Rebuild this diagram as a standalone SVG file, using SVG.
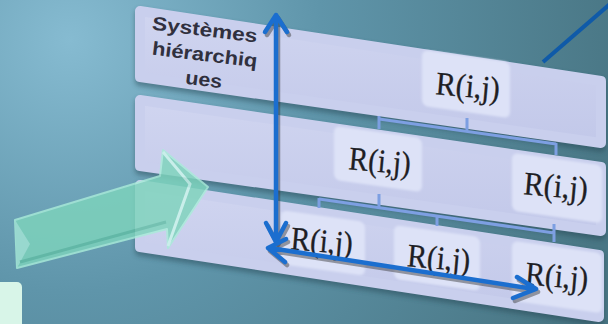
<svg xmlns="http://www.w3.org/2000/svg" width="608" height="324" viewBox="0 0 608 324">
<defs>
<radialGradient id="bg" cx="70" cy="40" r="560" gradientUnits="userSpaceOnUse">
<stop offset="0" stop-color="#86bbd1"/>
<stop offset="0.45" stop-color="#5f95aa"/>
<stop offset="1" stop-color="#497684"/>
</radialGradient>
<linearGradient id="pan" x1="0" y1="0" x2="0" y2="1">
<stop offset="0" stop-color="#d0d5f0"/>
<stop offset="1" stop-color="#c2c8e9"/>
</linearGradient>
<filter id="blur" x="-10%" y="-10%" width="120%" height="130%"><feGaussianBlur stdDeviation="2.5"/></filter>
<filter id="soft" x="-10%" y="-10%" width="120%" height="120%"><feGaussianBlur stdDeviation="1.2"/></filter>
<style>
.panel{fill:url(#pan);stroke:#c9cfed;stroke-width:10;stroke-linejoin:round}
.pshadow{fill:#23424f;opacity:.45;stroke:#23424f;stroke-width:10;stroke-linejoin:round;filter:url(#blur)}
.box{fill:#dde2f7;filter:url(#soft)}
.rt{font-family:"Liberation Serif","Times New Roman",serif;font-size:33px;fill:#1e1e24;text-anchor:middle;stroke:#1e1e24;stroke-width:0.3}
.lbl{font-family:"Liberation Sans",Arial,sans-serif;font-size:19px;font-weight:bold;fill:#30303e;text-anchor:middle}
.con{stroke:#7d9fe2;stroke-width:3;fill:none}
.ba{stroke:#1b6ecf;stroke-width:4.5;fill:none;stroke-linecap:round;stroke-linejoin:round}
.bs{stroke:#333;stroke-width:4.5;fill:none;opacity:.45;stroke-linecap:round;stroke-linejoin:round}
</style>
</defs>
<rect width="608" height="324" fill="url(#bg)"/>
<rect x="-6" y="282" width="28" height="50" rx="5" fill="#d8f5e8"/>
<line x1="543" y1="62" x2="610" y2="4" stroke="#0f5aa8" stroke-width="4"/>
<g id="panels">
<polygon class="pshadow" points="140,14 601,84 601,147 140,81"/>
<polygon class="panel" points="140,11 601,81 601,143 140,77"/>
<polygon class="pshadow" points="140,103 601,170 601,235 140,170"/>
<polygon class="panel" points="140,100 601,167 601,231 140,166"/>
<polygon class="pshadow" points="140,188 599,258 599,321 140,251"/>
<polygon class="panel" points="140,185 599,255 599,317 140,247"/>
</g>
<g id="label">
<text class="lbl" transform="translate(204,36) rotate(7)" x="0" y="0" textLength="106" lengthAdjust="spacingAndGlyphs">Systèmes</text>
<text class="lbl" transform="translate(204,61) rotate(7)" x="0" y="0" textLength="106" lengthAdjust="spacingAndGlyphs">hiérarchiq</text>
<text class="lbl" transform="translate(203,86) rotate(7)" x="0" y="0" textLength="37" lengthAdjust="spacingAndGlyphs">ues</text>
</g>
<g id="connectors">
<path class="con" d="M379,119 L556,144 M467,118 V131 M379,116 V129 M556,143 V155"/>
<path class="con" d="M319,199 L554,233 M379,194 V207 M319,198 V208 M437,215 V226 M554,224 V242"/>
</g>
<g id="n1"><rect class="box" x="-44" y="-28" width="88" height="56" rx="6" transform="translate(466,84) skewY(8)"/><text class="rt" transform="translate(467,97) rotate(5)" textLength="64" lengthAdjust="spacingAndGlyphs">R(i,j)</text></g>
<g id="n2"><rect class="box" x="-44" y="-27" width="88" height="54" rx="6" transform="translate(378,159) skewY(8)"/><text class="rt" transform="translate(379,172) rotate(5)" textLength="62" lengthAdjust="spacingAndGlyphs">R(i,j)</text></g>
<g id="n3"><rect class="box" x="-45" y="-29" width="90" height="58" rx="6" transform="translate(557,188) skewY(8)"/><text class="rt" transform="translate(555,197) rotate(5)" textLength="64" lengthAdjust="spacingAndGlyphs">R(i,j)</text></g>
<g id="n4"><rect class="box" x="-42" y="-27" width="84" height="54" rx="6" transform="translate(323,243) skewY(8)"/><text class="rt" transform="translate(321,252) rotate(5)" textLength="62" lengthAdjust="spacingAndGlyphs">R(i,j)</text></g>
<g id="n5"><rect class="box" x="-43" y="-27" width="86" height="54" rx="6" transform="translate(437,258) skewY(8)"/><text class="rt" transform="translate(438,269) rotate(5)" textLength="63" lengthAdjust="spacingAndGlyphs">R(i,j)</text></g>
<g id="n6"><rect class="box" x="-45" y="-30" width="90" height="60" rx="6" transform="translate(557,277) skewY(8)"/><text class="rt" transform="translate(556,287) rotate(5)" textLength="63" lengthAdjust="spacingAndGlyphs">R(i,j)</text></g>
<g id="green-arrow" opacity="0.82">
<polygon points="15,220 160,176 163,150 208,187 168,248 167,229 17,268" fill="#7ed4bc" stroke="#a9ecd9" stroke-width="2" stroke-linejoin="round"/>
<polygon points="15,220 30,244 17,268" fill="#a4e6d6"/>
<polyline points="163,152 190,184 168,246" fill="none" stroke="#c9f5ea" stroke-width="3"/>
<line x1="20" y1="262" x2="166" y2="222" stroke="#62bea5" stroke-width="3"/>
</g>
<g id="blue-arrows">
<g transform="translate(2,3)">
<path class="bs" d="M276,17 V240 M265,32 L276,15 L287,32 M266,223 L276,242 L286,223"/>
<path class="bs" d="M270,248 L534,289 M286,239 L268,248 L285,262 M517,277 L536,289 L513,298"/>
</g>
<path class="ba" d="M276,17 V240 M265,32 L276,15 L287,32 M266,223 L276,242 L286,223"/>
<path class="ba" d="M270,248 L534,289 M286,239 L268,248 L285,262 M517,277 L536,289 L513,298"/>
</g>
</svg>
